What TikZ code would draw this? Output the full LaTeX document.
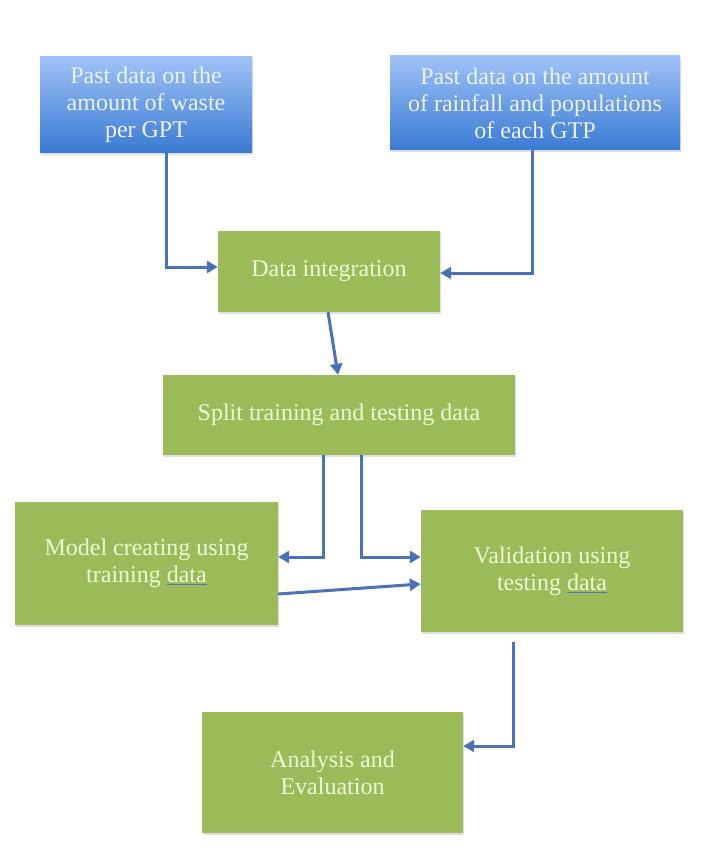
\documentclass[tikz,border=0pt]{standalone}
\usepackage{fontspec}
\setmainfont{Liberation Serif}
\usetikzlibrary{arrows.meta,shadows}

\definecolor{boxgreen}{RGB}{155,187,89}
\definecolor{toplight}{RGB}{158,194,246}
\definecolor{topdark}{RGB}{58,122,212}
\definecolor{flowblue}{RGB}{74,114,186}
\definecolor{greentext}{RGB}{240,247,214}
\definecolor{bluetext}{RGB}{236,243,255}
\newcommand{\spellmark}[1]{{\color{flowblue}\underline{\textcolor{greentext}{#1}}}}

\begin{document}
\begin{tikzpicture}[x=1pt,y=-1pt,
  class/.style={rectangle, fill=boxgreen, text=greentext, align=center,
    font=\fontsize{24}{27}\selectfont, inner sep=0pt,
    drop shadow={shadow xshift=1pt,shadow yshift=-2pt,opacity=0.25}},
  source/.style={class, top color=toplight, bottom color=topdark, text=bluetext},
  flow/.style={draw=flowblue, line width=3pt, -{Triangle[length=11pt,width=12pt]}}
  ]
  \useasboundingbox (0,0) rectangle (710,861);

  \node[source, minimum width=212pt, minimum height=96pt] (waste) at (146,105)
    {Past data on the\\amount of waste\\per GPT};
  \node[source, minimum width=290pt, minimum height=94pt] (rain) at (535,103)
    {Past data on the amount\\of rainfall and populations\\of each GTP};
  \node[class, minimum width=222pt, minimum height=81pt] (integ) at (329,271.5)
    {Data integration};
  \node[class, minimum width=352pt, minimum height=80pt] (split) at (339,415)
    {Split training and testing data};
  \node[class, minimum width=263pt, minimum height=123pt] (model) at (146.5,563.5)
    {Model creating using\\training \spellmark{data}};
  \node[class, minimum width=262pt, minimum height=122pt] (valid) at (552,571)
    {Validation using\\testing \spellmark{data}};
  \node[class, minimum width=261pt, minimum height=121pt] (eval) at (332.5,772.5)
    {Analysis and\\Evaluation};

  \draw[flow] ([xshift=20pt]waste.south) |- ([yshift=4.5pt]integ.west);
  \draw[flow] ([xshift=-3pt]rain.south) |- ([yshift=-1.5pt]integ.east);
  \draw[flow] ([xshift=-1pt]integ.south) -- ([xshift=-1pt]split.north);
  \draw[flow] ([xshift=-16pt]split.south) |- ([yshift=6.5pt]model.east);
  \draw[flow] ([xshift=22pt]split.south) |- ([yshift=14pt]valid.west);
  \draw[flow] ([yshift=-30.5pt]model.east) -- ([yshift=-13pt]valid.west);
  \draw[flow] ([xshift=-39pt,yshift=-10pt]valid.south) |- ([yshift=26.5pt]eval.east);
\end{tikzpicture}
\end{document}
